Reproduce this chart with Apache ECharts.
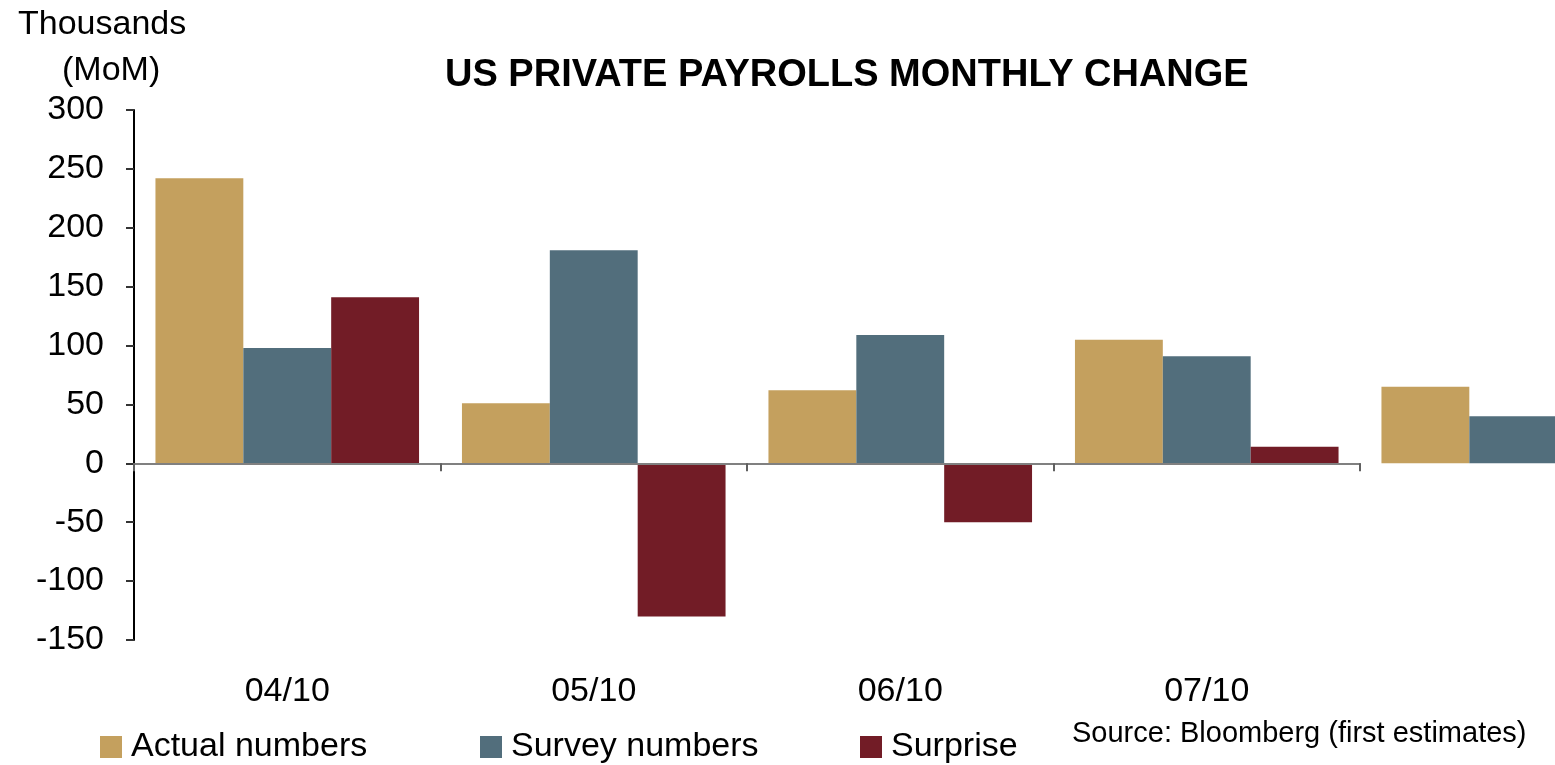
<!DOCTYPE html>
<html>
<head>
<meta charset="utf-8">
<script src="https://cdn.jsdelivr.net/npm/echarts@6/dist/echarts.min.js"></script>
<style>
  html, body { margin: 0; padding: 0; background: #fff; overflow: hidden; }
  /* wider than the window: the last bar group is cut off by the page edge */
  #main { width: 1700px; height: 765px; }
</style>
</head>
<body>
<div id="main"></div>
<script>
// months on the x axis (last group has no label)
const categories = ["04/10", "05/10", "06/10", "07/10", ""];
const actualNumbers = [242, 51, 62, 105, 65];
const surveyNumbers = [98, 181, 109, 91, 40];
const surprise = [141, -130, -50, 14, null];
const yTicks = { min: -150, max: 300, step: 50 };

const FONT = "Liberation Sans";
const catWidth = 306.5;

let chart = echarts.init(document.getElementById("main"));

let option = {
  animation: false,
  title: {
    text: "US PRIVATE PAYROLLS MONTHLY CHANGE",
    left: 440,
    top: 51,
    textStyle: { fontFamily: FONT, fontSize: 38, fontWeight: "bold", color: "#000", lineHeight: 40 },
  },
  legend: [
    { data: ["Actual numbers"], left: 100 },
    { data: ["Survey numbers"], left: 480 },
    { data: ["Surprise"], left: 860 },
  ].map((l) => ({
    ...l,
    top: 730,
    padding: 0,
    icon: "rect",
    itemWidth: 22,
    itemHeight: 22,
    textStyle: { fontFamily: FONT, fontSize: 34, color: "#000", padding: [0, 0, 0, 4] },
  })),
  grid: [
    // bars: 5 category slots, the last one runs past the page edge
    { left: 134, top: 110, height: 530, width: catWidth * 5 },
    // zero line: only the first 4 months
    { left: 134, top: 110, height: 530, width: catWidth * 4 },
  ],
  xAxis: [
    {
      type: "category",
      gridIndex: 0,
      data: categories,
      axisLine: { show: false, onZero: false },
      axisTick: { show: false },
      axisLabel: { interval: 0, margin: 35, fontFamily: FONT, fontSize: 34, color: "#000" },
    },
    {
      type: "category",
      gridIndex: 1,
      data: categories.slice(0, 4),
      z: 5,
      axisLine: { show: true, onZero: true, lineStyle: { color: "#808080", width: 2 } },
      axisTick: { show: true, interval: 0, length: 8, lineStyle: { color: "#606060", width: 2 } },
      axisLabel: { show: false },
    },
  ],
  yAxis: [
    {
      type: "value",
      gridIndex: 0,
      min: yTicks.min,
      max: yTicks.max,
      interval: yTicks.step,
      splitLine: { show: false },
      axisLine: { show: true, lineStyle: { color: "#000", width: 2 } },
      axisTick: { show: true, length: 8, lineStyle: { color: "#333", width: 2 } },
      axisLabel: { margin: 30, fontFamily: FONT, fontSize: 34, color: "#000" },
    },
    {
      type: "value",
      gridIndex: 1,
      min: yTicks.min,
      max: yTicks.max,
      interval: yTicks.step,
      show: false,
    },
  ],
  series: [
    { name: "Actual numbers", data: actualNumbers, color: "#C4A05E" },
    { name: "Survey numbers", data: surveyNumbers, color: "#526E7C" },
    { name: "Surprise", data: surprise, color: "#721C26" },
  ].map((s) => ({
    ...s,
    type: "bar",
    xAxisIndex: 0,
    yAxisIndex: 0,
    barGap: 0,
    barCategoryGap: "14%",
    itemStyle: { color: s.color },
  })),
  graphic: [
    { type: "text", x: 18, y: 25, style: { text: "Thousands", font: "34px " + FONT, fill: "#000", verticalAlign: "middle" } },
    { type: "text", x: 62, y: 71, style: { text: "(MoM)", font: "34px " + FONT, fill: "#000", verticalAlign: "middle" } },
    { type: "text", x: 1072, y: 734, style: { text: "Source: Bloomberg (first estimates)", font: "29px " + FONT, fill: "#000", verticalAlign: "middle" } },
  ],
};
chart.setOption(option);
</script>
</body>
</html>
